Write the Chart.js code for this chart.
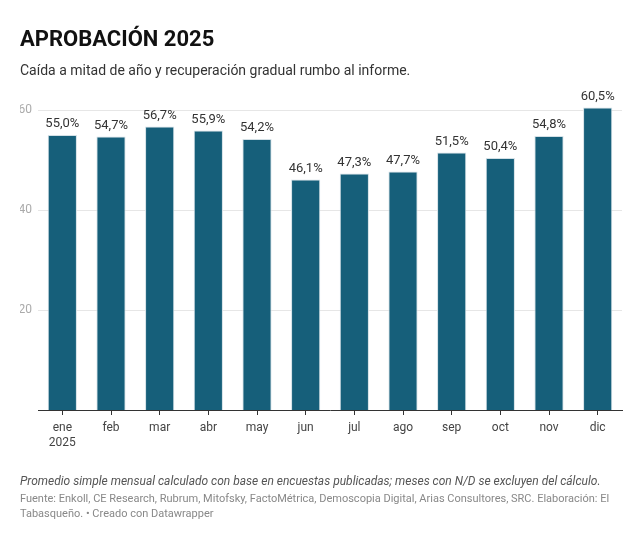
<!DOCTYPE html>
<html><head><meta charset="utf-8">
<script src="https://cdn.jsdelivr.net/npm/chart.js@4/dist/chart.umd.min.js"></script>
<style>
html,body{margin:0;padding:0;background:#fff;width:641px;height:535px;overflow:hidden;font-family:Roboto,"Noto Sans",sans-serif;}
#wrap{position:absolute;left:0;top:0;width:641px;height:535px;}
.t{position:absolute;left:20px;white-space:nowrap;}
#title{top:26px;font-size:22px;font-weight:700;color:#111;}
#sub{top:62px;font-size:14px;color:#333;}
#note{top:474px;font-size:12px;font-style:italic;color:#555;}
#src{top:491px;font-size:11px;color:#888;line-height:15px;white-space:normal;width:610px;}
</style></head><body>
<div id="wrap"><canvas id="c" width="641" height="535"></canvas></div>
<div class="t" id="title">APROBACIÓN 2025</div>
<div class="t" id="sub">Caída a mitad de año y recuperación gradual rumbo al informe.</div>
<div class="t" id="note">Promedio simple mensual calculado con base en encuestas publicadas; meses con N/D se excluyen del cálculo.</div>
<div class="t" id="src">Fuente: Enkoll, CE Research, Rubrum, Mitofsky, FactoMétrica, Demoscopia Digital, Arias Consultores, SRC. Elaboración: El Tabasqueño. • Creado con Datawrapper</div>
<script>
const months = ['ene','feb','mar','abr','may','jun','jul','ago','sep','oct','nov','dic'];
const approval = [55.0,54.7,56.7,55.9,54.2,46.1,47.3,47.7,51.5,50.4,54.8,60.5];
const yTicks = [20,40,60];

const labels = months.map((m,i)=> i===0 ? [m,'2025'] : m);

const valueLabels = {
  id:'valueLabels',
  afterDatasetsDraw(chart){
    const ctx = chart.ctx;
    const meta = chart.getDatasetMeta(0);
    ctx.save();
    ctx.font = '13px Roboto, sans-serif';
    ctx.fillStyle = '#333';
    ctx.textAlign = 'center';
    ctx.textBaseline = 'alphabetic';
    meta.data.forEach((bar,i)=>{
      const txt = approval[i].toFixed(1).replace('.',',') + '%';
      ctx.fillText(txt, bar.x, bar.y - 8);
    });
    ctx.restore();
  }
};

new Chart(document.getElementById('c'), {
  type:'bar',
  data:{labels, datasets:[{data:approval, backgroundColor:'#165f7a', borderColor:'#d3e0e6', borderWidth:1, categoryPercentage:1, barPercentage:0.6}]},
  options:{
    responsive:false, animation:false,
    layout:{padding:{top:95,left:20,right:19,bottom:85}},
    plugins:{legend:{display:false},tooltip:{enabled:false}},
    scales:{
      x:{
        grid:{drawOnChartArea:false, drawTicks:true, tickLength:5, offset:false, color:'#333'},
        border:{display:true, color:'#333', width:1},
        ticks:{color:'#444', font:{size:12, family:'Roboto'}, padding:6, maxRotation:0, autoSkip:false},
        afterFit(s){ s.height = 40; }
      },
      y:{
        min:0, max:63,
        afterBuildTicks(s){ s.ticks = yTicks.map(v=>({value:v})); },
        grid:{color:'#e6e6e6', drawTicks:false},
        border:{display:false},
        ticks:{color:'#aaa', font:{size:12, family:'Roboto'}, padding:6, callback:v=>String(v)},
        afterFit(s){ s.width = 18; }
      }
    }
  },
  plugins:[valueLabels]
});
</script>
</body></html>
